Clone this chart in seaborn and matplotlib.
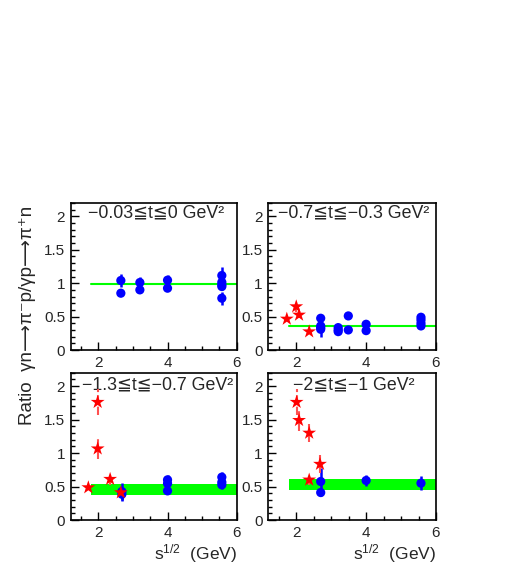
import numpy as np
import pandas as pd
import matplotlib
matplotlib.use("Agg")
import matplotlib.pyplot as plt
import seaborn as sns
from matplotlib.ticker import MultipleLocator, FormatStrFormatter

sns.set_style("ticks")
plt.rcParams['font.family'] = ['Liberation Sans', 'DejaVu Sans']
plt.rcParams['mathtext.fontset'] = 'custom'
plt.rcParams['mathtext.rm'] = 'Liberation Sans'
plt.rcParams['mathtext.it'] = 'Liberation Sans'

# ---- data ----
titles = ["\u22120.03\u2266t\u22660 GeV\u00b2", "\u22120.7\u2266t\u2266\u22120.3 GeV\u00b2",
          "\u22121.3\u2266t\u2266\u22120.7 GeV\u00b2", "\u22122\u2266t\u2266\u22121 GeV\u00b2"]

blue_x = [
    [2.65, 2.65, 3.2, 3.2, 4.0, 4.0, 5.57, 5.57, 5.57, 5.57, 5.57],
    [2.7, 2.7, 2.7, 2.7, 3.2, 3.2, 3.2, 3.49, 3.49, 4.0, 4.0, 5.57, 5.57, 5.57, 5.57],
    [2.68, 2.68, 4.0, 4.0, 4.0, 5.57, 5.57, 5.57],
    [2.7, 2.7, 4.0, 5.57],
]
blue_y = [
    [1.04, 0.85, 1.01, 0.90, 1.045, 0.925, 1.115, 1.015, 0.975, 0.95, 0.775],
    [0.475, 0.36, 0.335, 0.31, 0.335, 0.30, 0.275, 0.51, 0.30, 0.385, 0.29, 0.49, 0.45, 0.40, 0.36],
    [0.425, 0.385, 0.60, 0.545, 0.435, 0.64, 0.565, 0.525],
    [0.575, 0.41, 0.59, 0.55],
]
blue_err = [
    [0.09, 0.04, 0.09, 0.05, 0.07, 0.04, 0.12, 0.06, 0.05, 0.05, 0.10],
    [0.05, 0.05, 0.05, 0.11, 0.04, 0.04, 0.04, 0.04, 0.04, 0.04, 0.04, 0.05, 0.04, 0.04, 0.04],
    [0.13, 0.10, 0.07, 0.05, 0.04, 0.075, 0.05, 0.06],
    [0.20, 0.05, 0.08, 0.10],
]
red_x = [
    [],
    [1.73, 2.0, 2.08, 2.37],
    [1.71, 1.98, 1.98, 2.34, 2.65],
    [2.01, 2.08, 2.37, 2.37, 2.68],
]
red_y = [
    [],
    [0.465, 0.65, 0.525, 0.275],
    [0.485, 1.76, 1.065, 0.61, 0.41],
    [1.76, 1.49, 1.30, 0.60, 0.835],
]
red_err = [
    [],
    [0.02, 0.08, 0.04, 0.02],
    [0.02, 0.19, 0.15, 0.08, 0.04],
    [0.19, 0.16, 0.14, 0.08, 0.14],
]
fit_x = [1.8, 6.0]
band_lo = [0.99, 0.365, 0.375, 0.445]
band_hi = [0.99, 0.365, 0.54, 0.615]

# ---- figure ----
fig = plt.figure(figsize=(5.23, 5.72), dpi=100)
W, H = 523, 572
boxes = [(70.7, 350, 166, 147), (268.3, 350, 167.7, 147),
         (70.7, 520, 166, 147.3), (268.3, 520, 167.7, 147.3)]
title_pos = [(0.104, 0.932), (0.058, 0.932), (0.066, 0.917), (0.148, 0.917)]

for i, (x0, yb, w, h) in enumerate(boxes):
    ax = fig.add_axes([x0 / W, 1 - yb / H, w / W, h / H])
    ax.set_xlim(1.2, 6.0)
    ax.set_ylim(0, 2.2)
    lo = band_lo[i]; hi = band_hi[i]
    if hi > lo:
        ax.fill_between(fit_x, [lo, lo], [hi, hi], color="#00ff00", lw=0, zorder=1)
    else:
        ax.plot(fit_x, [lo, lo], color="#00ff00", lw=1.5, zorder=1)

    bdf = pd.DataFrame({"x": blue_x[i], "y": blue_y[i], "e": blue_err[i]})
    ax.vlines(bdf["x"], bdf["y"] - bdf["e"], bdf["y"] + bdf["e"], color="#0000ff", lw=1.8, zorder=2)
    sns.scatterplot(data=bdf, x="x", y="y", ax=ax, color="#0000ff", marker="o", s=44,
                    edgecolor="none", zorder=3, legend=False)
    if red_x[i]:
        rdf = pd.DataFrame({"x": red_x[i], "y": red_y[i], "e": red_err[i]})
        ax.vlines(rdf["x"], rdf["y"] - rdf["e"], rdf["y"] + rdf["e"], color="#ff5050", lw=1.5,
                  linestyles=(0, (4, 1.5)), zorder=4)
        sns.scatterplot(data=rdf, x="x", y="y", ax=ax, color="#ff0000", marker="*", s=110,
                        edgecolor="none", zorder=5, legend=False)

    ax.xaxis.set_major_locator(MultipleLocator(2))
    ax.xaxis.set_minor_locator(MultipleLocator(0.5))
    ax.yaxis.set_major_locator(MultipleLocator(0.5))
    ax.yaxis.set_minor_locator(MultipleLocator(0.1))
    ax.yaxis.set_major_formatter(FormatStrFormatter("%g"))
    ax.tick_params(which="both", direction="in", top=False, right=False, labelsize=11,
                   color="black", width=1)
    ax.tick_params(which="major", length=6, pad=4)
    ax.tick_params(which="minor", length=3)
    for sp in ax.spines.values():
        sp.set_linewidth(1.2)
        sp.set_color("black")
    ax.set_xlabel("")
    ax.set_ylabel("")
    tx, ty = title_pos[i]
    ax.text(tx, ty, titles[i], transform=ax.transAxes, ha="left", va="center", fontsize=12.8)
    if i >= 2:
        ax.set_xlabel("s$^{1/2}$  (GeV)", loc="right", fontsize=12.5, labelpad=2)

fig.text(28 / W, 1 - 315 / H, "Ratio  \u03b3n\u27f6\u03c0\u207bp/\u03b3p\u27f6\u03c0\u207an",
         rotation=90, ha="center", va="center", fontsize=13.5,
         family=['Liberation Sans', 'DejaVu Sans'])

fig.savefig("out.png", dpi=100)
